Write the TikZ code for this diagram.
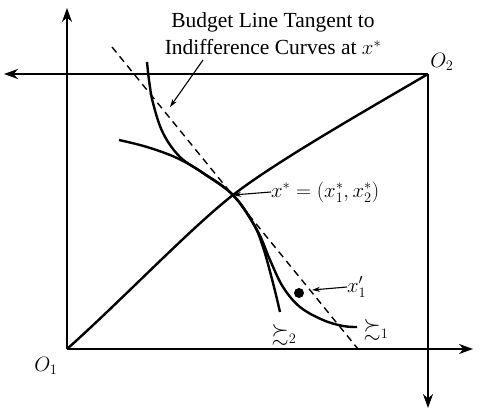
\documentclass[tikz,border=0pt]{standalone}
\usepackage{amssymb}
\usepackage{fontspec}
\setmainfont{Liberation Serif}
\usetikzlibrary{arrows.meta}
\begin{document}
\begin{tikzpicture}[x=1pt,y=-1pt,
 axis/.style={line width=2pt},
 bigtip/.style={-{Stealth[length=14pt,width=10pt]}},
 curve/.style={line width=2.4pt},
 budget/.style={line width=1.4pt, dash pattern=on 7pt off 5pt},
 pointer/.style={line width=1.1pt,-{Stealth[length=8pt,width=5pt]}},
 lbl/.style={font=\fontsize{21.5}{26}\selectfont, inner sep=0pt},
 mlbl/.style={font=\fontsize{22}{26}\selectfont, inner sep=0pt}]
\useasboundingbox (0,0) rectangle (480,409);
% frame
\coordinate (O1) at (67,349);
\coordinate (O2) at (428,74);
\coordinate (ytip) at (67,8);
\coordinate (xtip2) at (4,74);
\coordinate (xtip) at (473,349);
\coordinate (ytip2) at (428,408);
\draw[axis,bigtip] (O1) -- (ytip);
\draw[axis,bigtip] (O1) -- (xtip);
\draw[axis,bigtip] (O2) -- (xtip2);
\draw[axis,bigtip] (O2) -- (ytip2);
% key points
\coordinate (xstar) at (233,195);
\coordinate (bl1) at (112,47);
\coordinate (bl2) at (358,349);
% contract curve
\draw[curve] (O1) .. controls (120,302) and (190,228.5) .. (xstar)
  .. controls (276,161.5) and (370,108) .. (O2);
% budget line
\draw[budget] (bl1) -- (bl2);
% indifference curve 2
\draw[curve] plot[smooth,tension=0.6] coordinates {(147,62) (149,80) (153,103) (163,133) (180,157) (203,173) (xstar) (253,223) (263,247) (273,283) (280,312)};
% indifference curve 1
\draw[curve] plot[smooth,tension=0.6] coordinates {(119,140) (147,147) (177,158) (203,173) (xstar) (257,230) (270,260) (283,287) (300,307) (323,320) (343,326) (357,327)};
% point x'_1
\node[circle,fill,inner sep=0pt,minimum size=10pt] (xp) at (299,293) {};
% labels
\node[lbl,anchor=base] (t1) at (273,28) {Budget Line Tangent to};
\node[lbl,anchor=base] (t2) at (273,55) {Indifference Curves at $x^*$};
\coordinate (bstart) at (203,60);
\coordinate (btip) at (170,107);
\draw[pointer] (bstart) -- (btip);
\node[mlbl,anchor=west] (xsl) at (271,192) {$x^* = (x_1^*, x_2^*)$};
\draw[pointer] (xsl.west) -- (xstar);
\node[mlbl,anchor=west] (xpl) at (347,287) {$x_1'$};
\coordinate (xptip) at (312,290);
\draw[pointer] (xpl.west) -- (xptip);
\node[mlbl] (p2) at (284,335) {$\succsim_2$};
\node[mlbl] (p1) at (376,330) {$\succsim_1$};
\node[mlbl] (o1) at (46,366) {$O_1$};
\node[mlbl] (o2) at (442,62) {$O_2$};
\end{tikzpicture}
\end{document}
